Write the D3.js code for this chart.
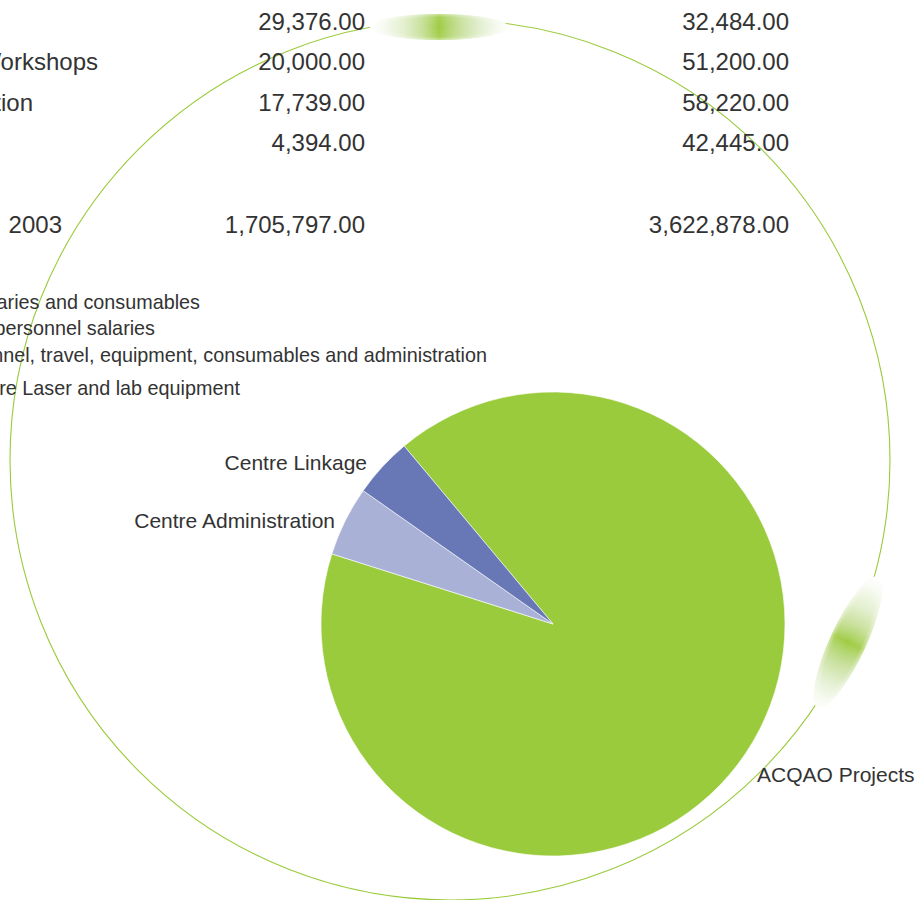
<!DOCTYPE html>
<html>
<head>
<meta charset="utf-8">
<script src="https://cdn.jsdelivr.net/npm/d3@7/dist/d3.min.js"></script>
<style>
  html, body { margin: 0; padding: 0; background: #fff; overflow: hidden; }
  svg { display: block; }
  text { font-family: "Liberation Sans", Arial, Helvetica, sans-serif; fill: #333; }
</style>
</head>
<body>
<svg id="chart" width="918" height="900"></svg>
<script>
// ---------- data ----------
const rowLabels = ["Travel", "Conferences and Workshops", "Centre Administration", "Visitors"];
const values2003 = [29376, 20000, 17739, 4394];
const values2004 = [32484, 51200, 58220, 42445];
const totalLabel = ["Total Expenditure", "2003"];
const total2003 = 1705797;
const total2004 = 3622878;

const notes = [
  "Centre Linkage: salaries and consumables",
  "Centre Administration: personnel salaries",
  "ACQAO Projects: personnel, travel, equipment, consumables and administration",
  "Infrastructure: Femtosecond Ti Sapphire Laser and lab equipment"
];

const pieCategories = ["ACQAO Projects", "Centre Administration", "Centre Linkage"];
const pieShares = [90.97, 4.86, 4.17];
const pieColors = ["#9acb3c", "#a9b1d7", "#6877b6"];

// ---------- layout ----------
const svg = d3.select("#chart");
const fmt = d3.format(",.2f");
const defs = svg.append("defs");

// glow: gradient along the long axis, soft across the short axis
const lin = defs.append("linearGradient").attr("id", "glowLin")
  .attr("x1", 0).attr("x2", 1).attr("y1", 0).attr("y2", 0);
[[0, "#ffffff"], [0.1, "#f5f9ee"], [0.25, "#e1eecb"], [0.38, "#c6df96"], [0.46, "#add363"],
 [0.5, "#a0cb42"], [0.56, "#b0d46a"], [0.66, "#c8e09c"], [0.8, "#e2eecf"], [0.92, "#f3f8ea"], [1, "#fcfdf9"]]
  .forEach(([o, c]) => lin.append("stop").attr("offset", o).attr("stop-color", c));
const rad = defs.append("radialGradient").attr("id", "glowRad")
  .attr("cx", "50%").attr("cy", "50%").attr("r", "50%");
[[0, "#ffffff", 0], [0.75, "#ffffff", 0.08], [1, "#ffffff", 0.45]]
  .forEach(([o, c, a]) => rad.append("stop").attr("offset", o).attr("stop-color", c).attr("stop-opacity", a));

// big thin ring
const ringC = [450, 460], ringR = 440;
svg.append("circle").attr("cx", ringC[0]).attr("cy", ringC[1]).attr("r", ringR)
  .attr("fill", "none").attr("stroke", "#9acb3c").attr("stroke-width", 1.1);

// glows on the ring
function glow(tr, rx, ry) {
  const g = svg.append("g").attr("transform", tr);
  g.append("ellipse").attr("rx", rx).attr("ry", ry).attr("fill", "url(#glowLin)");
  g.append("ellipse").attr("rx", rx).attr("ry", ry).attr("fill", "url(#glowRad)");
}
glow("translate(439,27)", 69, 13);
glow("translate(848,642) rotate(115)", 72, 18);

// table
const rowY = d3.scaleLinear().domain([0, 3]).range([30, 151]);
const tbl = svg.append("g").attr("font-size", 24);
tbl.selectAll("text.lab").data(rowLabels).join("text").attr("class", "lab")
  .attr("x", (d, i) => [-60, 98, 33, -60][i]).attr("y", (d, i) => rowY(i))
  .attr("text-anchor", "end").text(d => d);
tbl.selectAll("text.v3").data(values2003).join("text").attr("class", "v3")
  .attr("x", 365).attr("y", (d, i) => rowY(i)).attr("text-anchor", "end").text(d => fmt(d));
tbl.selectAll("text.v4").data(values2004).join("text").attr("class", "v4")
  .attr("x", 789).attr("y", (d, i) => rowY(i)).attr("text-anchor", "end").text(d => fmt(d));
const tl = tbl.append("text").attr("x", 62).attr("y", 233).attr("text-anchor", "end");
tl.append("tspan").text(totalLabel[0]);
tl.append("tspan").attr("dx", 12).text(totalLabel[1]);
tbl.append("text").attr("x", 365).attr("y", 233).attr("text-anchor", "end").text(fmt(total2003));
tbl.append("text").attr("x", 789).attr("y", 233).attr("text-anchor", "end").text(fmt(total2004));

// notes
const noteEnd = [200, 155, 487, 240];
const noteY = [309, 335, 362, 395];
svg.append("g").attr("font-size", 19.8).selectAll("text").data(notes).join("text")
  .attr("x", (d, i) => noteEnd[i]).attr("y", (d, i) => noteY[i])
  .attr("text-anchor", "end").text(d => d);

// pie
const pieC = [553, 624], pieR = 232;
const start = -39.9 * Math.PI / 180;
const pie = d3.pie().sort(null).startAngle(start).endAngle(start + 2 * Math.PI);
const arcs = pie(pieShares);
const arc = d3.arc().innerRadius(0).outerRadius(pieR);
const color = d3.scaleOrdinal().domain(pieCategories).range(pieColors);
const pg = svg.append("g").attr("transform", `translate(${pieC[0]},${pieC[1]})`);
pg.selectAll("path").data(arcs).join("path")
  .attr("d", arc).attr("fill", (d, i) => color(pieCategories[i]))
  .attr("stroke", "#ffffff").attr("stroke-width", 0.6).attr("stroke-linejoin", "round");

// pie labels
const labPos = [[757, 782, "start"], [335, 528, "end"], [367, 470, "end"]];
svg.append("g").attr("font-size", 21).selectAll("text").data(pieCategories).join("text")
  .attr("x", (d, i) => labPos[i][0]).attr("y", (d, i) => labPos[i][1])
  .attr("text-anchor", (d, i) => labPos[i][2]).text(d => d);
</script>
</body>
</html>
